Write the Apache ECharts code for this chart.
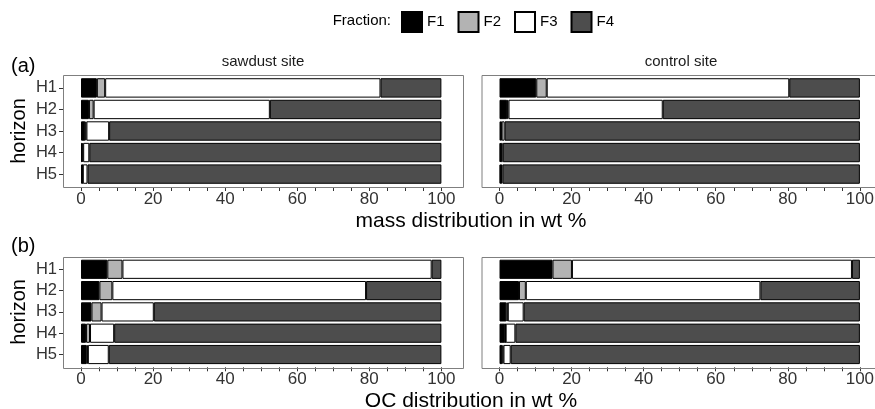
<!DOCTYPE html>
<html>
<head>
<meta charset="utf-8">
<script src="https://cdn.jsdelivr.net/npm/echarts@6/dist/echarts.min.js"></script>
<style>
  html, body { margin: 0; padding: 0; background: #fff; }
  #chart { width: 875px; height: 409px; }
</style>
</head>
<body>
<div id="chart"></div>
<script>
const horizons = ['H1', 'H2', 'H3', 'H4', 'H5'];
const fractions = ['F1', 'F2', 'F3', 'F4'];
const xTicks = [0, 5, 10, 15, 20, 25, 30, 35, 40, 45, 50, 55, 60, 65, 70, 75, 80, 85, 90, 95, 100];
const xLabels = [0, 20, 40, 60, 80, 100];

// (a) mass distribution, sawdust site
const massSawdustF1 = [4.4, 2.2, 1.2, 0.4, 0.4];
const massSawdustF2 = [2.3, 1.3, 0.3, 0.2, 0.1];
const massSawdustF3 = [76.4, 48.9, 6.3, 1.7, 1.3];
const massSawdustF4 = [16.9, 47.6, 92.2, 97.7, 98.2];
// (a) mass distribution, control site
const massControlF1 = [10.2, 2.1, 0.4, 0.3, 0.3];
const massControlF2 = [2.9, 0.4, 0.2, 0.1, 0.1];
const massControlF3 = [67.3, 42.8, 0.8, 0.5, 0.4];
const massControlF4 = [19.6, 54.7, 98.6, 99.1, 99.2];
// (b) OC distribution, sawdust site
const ocSawdustF1 = [7.3, 5.1, 2.9, 1.4, 1.6];
const ocSawdustF2 = [4.2, 3.6, 2.8, 1.1, 0.3];
const ocSawdustF3 = [85.8, 70.4, 14.5, 6.7, 5.8];
const ocSawdustF4 = [2.7, 20.9, 79.8, 90.8, 92.3];
// (b) OC distribution, control site
const ocControlF1 = [14.7, 5.4, 1.9, 1.6, 0.8];
const ocControlF2 = [5.4, 1.9, 0.4, 0.1, 0.3];
const ocControlF3 = [77.7, 65.1, 4.4, 2.7, 2.0];
const ocControlF4 = [2.2, 27.6, 93.3, 95.6, 96.9];

const fill = ['#000000', '#b3b3b3', '#ffffff', '#4d4d4d'];
const font = 'Liberation Sans';

// panel boxes (ggplot style, categories padded by 0.6 band)
const panels = [
  { x: 63, y: 75, w: 400, h: 112, data: [massSawdustF1, massSawdustF2, massSawdustF3, massSawdustF4] },
  { x: 481.5, y: 75, w: 400, h: 112, data: [massControlF1, massControlF2, massControlF3, massControlF4] },
  { x: 63, y: 256.5, w: 400, h: 110.8, data: [ocSawdustF1, ocSawdustF2, ocSawdustF3, ocSawdustF4] },
  { x: 481.5, y: 256.5, w: 400, h: 110.8, data: [ocControlF1, ocControlF2, ocControlF3, ocControlF4] },
];

const grids = [];
const xAxes = [];
const yAxes = [];
const series = [];
const graphics = [];

panels.forEach((p, i) => {
  const band = p.h / 5.2;
  const pad = band * 0.1;
  const leftPanel = i % 2 === 0;
  grids.push({
    left: p.x,
    top: p.y + pad,
    width: p.w,
    height: p.h - 2 * pad,
    outerBoundsMode: 'none',
  });
  xAxes.push({
    gridIndex: i,
    type: 'value',
    min: -5,
    max: 106,
    offset: pad,
    axisLine: { show: false, onZero: false },
    axisTick: { show: true, length: 4, customValues: xTicks, lineStyle: { color: '#333' } },
    axisLabel: { customValues: xLabels, fontSize: 17, color: '#333', margin: 4, fontFamily: font },
    splitLine: { show: false },
  });
  yAxes.push({
    gridIndex: i,
    type: 'category',
    data: horizons,
    inverse: true,
    axisLine: { show: false, onZero: false },
    axisTick: { show: leftPanel, interval: 0, alignWithLabel: true, length: 4, lineStyle: { color: '#333' } },
    axisLabel: { show: leftPanel, interval: 0, fontSize: 16.5, color: '#333', margin: 6, fontFamily: font },
    name: leftPanel ? 'horizon' : '',
    nameLocation: 'middle',
    nameGap: 34,
    nameTextStyle: { fontSize: 20, color: '#000', fontFamily: font },
  });
  p.data.forEach((vals, k) => {
    series.push({
      name: fractions[k],
      type: 'bar',
      xAxisIndex: i,
      yAxisIndex: i,
      stack: 'panel' + i,
      data: vals,
      barCategoryGap: '10%',
      itemStyle: { color: fill[k], borderColor: '#000', borderWidth: 1 },
      emphasis: { disabled: true },
    });
  });
  graphics.push({
    type: 'rect',
    shape: { x: p.x + 0.5, y: Math.round(p.y) + 0.5, width: p.w, height: Math.round(p.h) },
    style: { fill: 'none', stroke: '#7f7f7f', lineWidth: 1 },
    z: 10,
  });
});

function label(text, x, y, size, align, color) {
  return {
    type: 'text',
    x: x,
    y: y,
    style: {
      text: text,
      fontSize: size,
      fontFamily: font,
      fill: color || '#000',
      align: align || 'center',
      verticalAlign: 'middle',
    },
  };
}

graphics.push(
  label('Fraction:', 391, 21, 15, 'right'),
  label('(a)', 11, 66, 20, 'left'),
  label('(b)', 11, 246, 20, 'left'),
  label('sawdust site', 263, 62, 15, 'center', '#1a1a1a'),
  label('control site', 681, 62, 15, 'center', '#1a1a1a'),
  label('mass distribution in wt %', 471, 221, 21),
  label('OC distribution in wt %', 471, 401, 21)
);

const myChart = echarts.init(document.getElementById('chart'));

const option = {
  animation: false,
  textStyle: { fontFamily: font },
  legend: {
    data: fractions,
    left: 401,
    top: 11,
    padding: 0,
    icon: 'rect',
    itemWidth: 20,
    itemHeight: 20,
    itemGap: 13,
    selectedMode: false,
    textStyle: { fontSize: 15, color: '#000', fontFamily: font },
  },
  grid: grids,
  xAxis: xAxes,
  yAxis: yAxes,
  series: series,
  graphic: graphics,
};

myChart.setOption(option);
</script>
</body>
</html>
